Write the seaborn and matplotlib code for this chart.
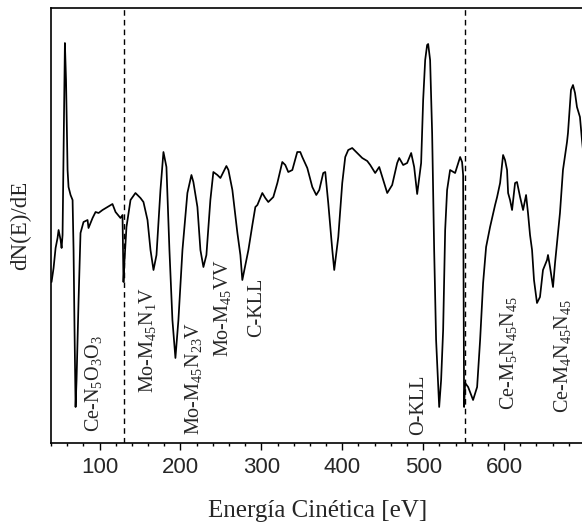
"""Auger spectrum (dN(E)/dE) with peak assignments."""
import numpy as np
import pandas as pd
import matplotlib
matplotlib.use('Agg')
import matplotlib.pyplot as plt
from matplotlib.ticker import MultipleLocator
import seaborn as sns

# kinetic energy [eV] and derivative signal [a.u.]
energy = [
    40.7, 43.2, 45.7, 48.1, 49.4, 51.9, 53.1, 54.3, 55.6, 57.2, 58.6, 60.5, 61.7,
    64.2, 66.7, 67.9, 69.1, 70.4, 71.6, 74.1, 76.5, 80.2, 85.2, 86.4, 91.4, 95.1,
    98.8, 103.7, 109.9, 116.0, 119.8, 125.9, 128.4, 129.6, 130.9, 133.3, 138.3,
    144.4, 150.6, 154.3, 159.3, 163.0, 166.7, 170.4, 175.3, 179.0, 182.7, 186.4,
    190.1, 193.8, 197.5, 202.5, 208.6, 213.6, 216.0, 221.0, 224.7, 228.4, 232.1,
    237.0, 240.7, 245.7, 249.4, 253.1, 256.8, 259.3, 264.2, 270.4, 274.1, 276.5,
    280.2, 284.0, 288.9, 292.6, 295.1, 301.2, 304.9, 308.6, 314.8, 319.8, 325.9,
    329.6, 333.3, 338.3, 344.4, 348.1, 350.6, 356.8, 363.0, 367.9, 371.6, 376.5,
    379.0, 382.7, 387.7, 390.1, 395.1, 400.0, 403.7, 407.4, 412.3, 418.5, 424.7,
    430.9, 434.6, 440.7, 445.7, 450.6, 455.6, 461.7, 467.9, 470.4, 475.3, 480.2,
    485.2, 488.9, 492.6, 497.5, 500.0, 502.5, 504.9, 506.2, 508.6, 511.1, 513.6,
    516.0, 519.8, 522.2, 524.7, 527.2, 529.6, 533.3, 539.5, 545.7, 548.1, 549.4,
    550.6, 551.9, 555.6, 561.7, 566.7, 570.4, 574.1, 577.8, 580.2, 582.7, 585.2,
    588.9, 591.4, 595.1, 598.8, 601.2, 603.7, 605.0, 607.4, 609.9, 613.6, 616.0,
    619.8, 623.5, 627.2, 629.6, 632.1, 634.6, 637.0, 640.7, 644.4, 648.1, 653.1,
    654.3, 656.8, 660.5, 663.0, 666.7, 669.1, 672.8, 677.8, 679.0, 682.7, 685.2,
    687.7, 690.1, 693.8, 696.3, 698.8,
]
signal = [
    1.61, 1.75, 1.95, 2.05, 2.13, 2.03, 1.95, 2.08, 2.93, 4.00, 3.63, 2.73, 2.56,
    2.48, 2.43, 1.93, 1.13, 0.36, 0.63, 1.43, 2.10, 2.21, 2.23, 2.15, 2.25, 2.31,
    2.30, 2.33, 2.36, 2.39, 2.31, 2.25, 2.28, 1.61, 1.83, 2.16, 2.43,
    2.50, 2.45, 2.41, 2.23, 1.93, 1.73, 1.88, 2.53, 2.91, 2.76, 1.93,
    1.23, 0.85, 1.23, 1.93, 2.50, 2.68, 2.61, 2.36, 1.93, 1.76, 1.88,
    2.43, 2.71, 2.68, 2.65, 2.71, 2.77, 2.73, 2.53, 2.10, 1.88, 1.63,
    1.78, 1.93, 2.18, 2.36, 2.38, 2.50, 2.45, 2.41, 2.46, 2.60, 2.81,
    2.78, 2.71, 2.73, 2.91, 2.91, 2.86, 2.75, 2.56, 2.48, 2.53, 2.70,
    2.71, 2.40, 1.93, 1.73, 2.06, 2.60, 2.86, 2.93, 2.95, 2.90, 2.85,
    2.82, 2.78, 2.70, 2.76, 2.63, 2.50, 2.58, 2.80, 2.85, 2.78, 2.80,
    2.90, 2.76, 2.49, 2.80, 3.43, 3.83, 3.98, 3.99, 3.83, 3.10, 1.93,
    1.03, 0.36, 0.63, 1.13, 2.13, 2.53, 2.73, 2.70, 2.86, 2.81, 2.68,
    0.36, 0.60, 0.56, 0.43, 0.56, 1.03, 1.60, 1.96, 2.06, 2.16, 2.25,
    2.38, 2.46, 2.60, 2.88, 2.83, 2.73, 2.50, 2.43, 2.33, 2.60, 2.61,
    2.46, 2.33, 2.48, 2.30, 2.08, 1.93, 1.63, 1.40, 1.46, 1.73, 1.83,
    1.88, 1.76, 1.56, 1.80, 2.10, 2.30, 2.73, 3.01, 3.10, 3.53, 3.58,
    3.50, 3.36, 3.26, 3.03, 2.83,
]

# boundaries between acquisition windows
window_edges = [130, 552]

# peak assignments: label, energy of label, baseline of label
peak_labels = [
    "Ce-N$_5$O$_3$O$_3$", "Mo-M$_{45}$N$_1$V", "Mo-M$_{45}$N$_{23}$V",
    "Mo-M$_{45}$VV", "C-KLL", "O-KLL",
    "Ce-M$_5$N$_{45}$N$_{45}$", "Ce-M$_4$N$_{45}$N$_{45}$",
]
peak_label_x = [92.6, 159.3, 216.0, 251.9, 293.8, 495.0, 606.0, 672.8]
peak_label_y = [0.11, 0.50, 0.08, 0.86, 1.06, 0.08, 0.33, 0.30]

energy_ticks = [100, 200, 300, 400, 500, 600]

sns.set_theme(style="ticks")
plt.rcParams['font.family'] = ['Liberation Serif', 'DejaVu Serif']
plt.rcParams['mathtext.fontset'] = 'custom'
plt.rcParams['mathtext.rm'] = 'Liberation Serif'
plt.rcParams['mathtext.it'] = 'Liberation Serif:italic'

df = pd.DataFrame({"energy": energy, "signal": signal})

fig = plt.figure(figsize=(5.82, 5.27), dpi=100)
ax = fig.add_axes([0.0876, 0.1594, 0.9175, 0.8254])

sns.lineplot(data=df, x="energy", y="signal", color="black", linewidth=1.25,
             estimator=None, sort=False, ax=ax)

for e in window_edges:
    ax.axvline(e, color="black", linestyle=(0, (4, 3)), linewidth=1.0)

for lab, lx, ly in zip(peak_labels, peak_label_x, peak_label_y):
    ax.text(lx, ly, lab, rotation=90, ha="center", va="bottom", fontsize=14.5)

ax.set_xlim(40, 700)
ax.set_ylim(0, 4.35)
ax.set_xticks(energy_ticks)
ax.xaxis.set_minor_locator(MultipleLocator(20))
ax.set_yticks([])
ax.tick_params(axis="x", which="major", direction="out", length=5, width=1,
               pad=5, labelsize=16, color="black")
ax.tick_params(axis="x", which="minor", direction="out", length=2.5, width=1,
               color="black")
for t in ax.get_xticklabels():
    t.set_fontfamily("Liberation Sans")
for s in ax.spines.values():
    s.set_color("black")
    s.set_linewidth(1.2)

ax.set_xlabel("Energía Cinética [eV]", fontsize=18, labelpad=16)
ax.set_ylabel("dN(E)/dE", fontsize=16.5, labelpad=14)

plt.savefig("out.png", dpi=100)
plt.close()
